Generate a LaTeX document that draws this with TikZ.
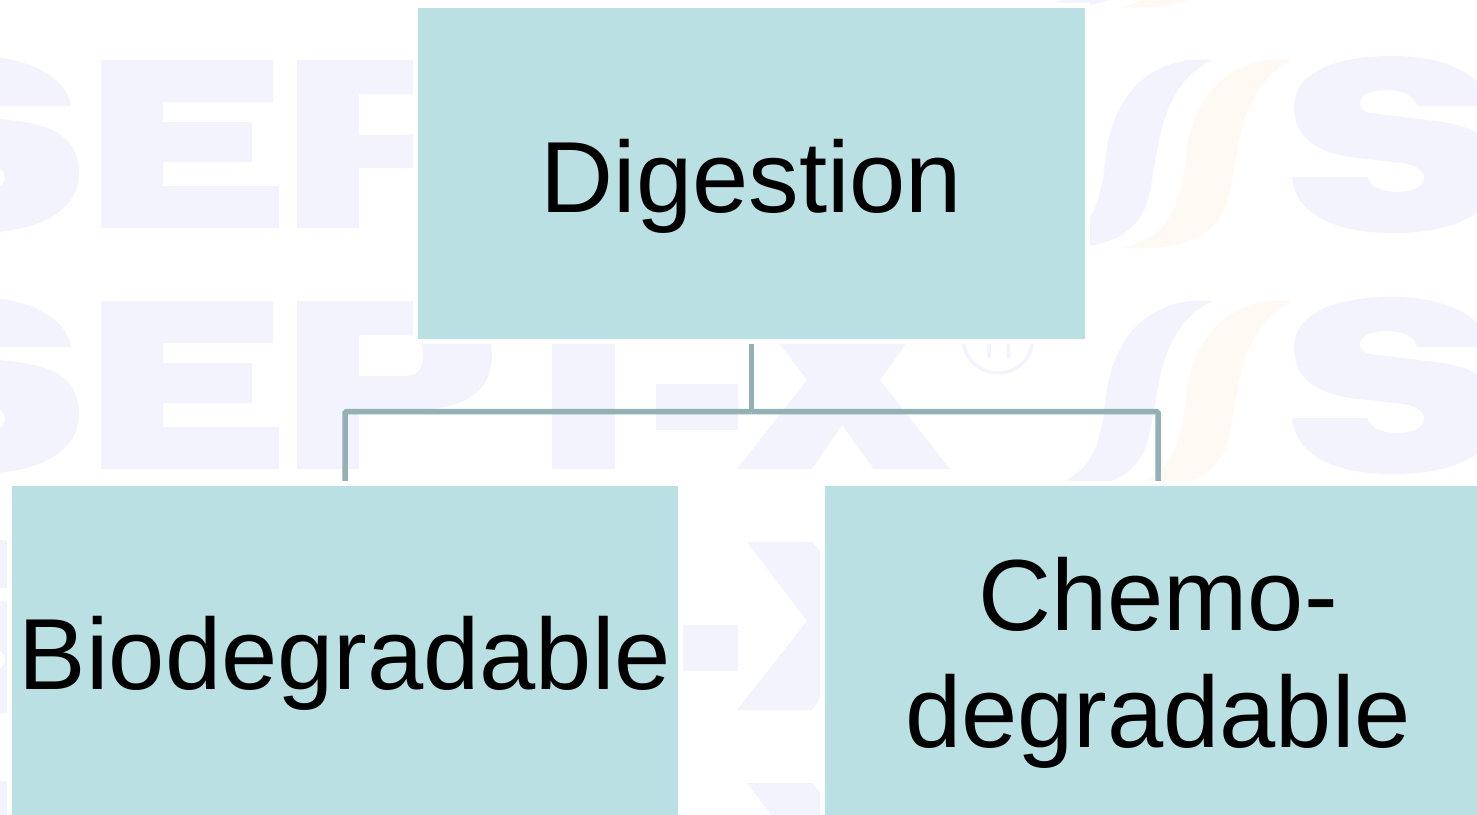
\documentclass[tikz,border=0pt]{standalone}
\usepackage{fontspec}
\setmainfont{Liberation Sans}
\usetikzlibrary{backgrounds}
\definecolor{boxfill}{HTML}{BBE0E3}
\definecolor{linkcol}{HTML}{93B1B5}
\definecolor{markblue}{HTML}{F3F3FE}
\definecolor{markorange}{HTML}{FFF8F3}
\tikzset{
  box/.style={rectangle,inner sep=0pt,outer sep=0pt,fill=boxfill,
    preaction={draw=white,line width=10pt},
    font=\fontsize{101.1}{117}\selectfont,align=center,text=black},
  link/.style={draw=linkcol,line width=5.5pt,rounded corners=1.5pt},
  wmark/.style={fill=markblue,draw=none,even odd rule},
  wswoosh/.style={fill=markblue,draw=none},
  wswooshb/.style={fill=markorange,draw=none},
  wring/.style={draw=markblue,line width=3.5pt,fill=none}
}
\newcommand{\wmS}{(1490,106) .. controls (1485,75) and (1445,56) .. (1393,56)
  .. controls (1335,56) and (1294,72) .. (1294,107)
  .. controls (1294,140) and (1320,152) .. (1350,157)
  -- (1403,163)
  .. controls (1416,165) and (1424,170) .. (1424,178)
  .. controls (1424,187) and (1412,192) .. (1397,192)
  .. controls (1382,192) and (1371,187) .. (1367,177)
  -- (1292,177)
  .. controls (1296,215) and (1335,233) .. (1393,233)
  .. controls (1460,233) and (1498,210) .. (1498,173)
  .. controls (1498,140) and (1475,127) .. (1443,122)
  -- (1370,113)
  .. controls (1362,112) and (1360,107) .. (1360,102)
  .. controls (1360,95) and (1372,90) .. (1387,90)
  .. controls (1403,90) and (1415,96) .. (1417,106)
  -- cycle}
\newcommand{\wmSw}{(1292,60) .. controls (1250,56) and (1200,75) .. (1187,147)
  .. controls (1181,205) and (1174,234) .. (1123,248)
  .. controls (1165,250) and (1212,245) .. (1226,205)
  .. controls (1240,165) and (1232,90) .. (1292,60) -- cycle}
\begin{document}
\begin{tikzpicture}[x=1pt,y=-1pt]
\useasboundingbox (0,0) rectangle (1477,814);
\begin{scope}
\clip (0,0) rectangle (1477,814);
\node[box,minimum width=667pt,minimum height=331pt] (top) at (751.5,173.5) {\rule{0pt}{98pt}Digestion};
\node[box,minimum width=666pt,minimum height=331pt] (left) at (345,651.5) {\rule{0pt}{97pt}Biodegradable};
\node[box,minimum width=666pt,minimum height=331pt] (right) at (1158,651.5) {\rule{0pt}{96pt}Chemo-\\degradable};
\end{scope}
\coordinate (hub) at (top.south |- 0,411.5);
\begin{pgfonlayer}{background}
\begin{scope}
\clip (0,0) rectangle (1477,814);
\fill[white] (0,0) rectangle (1477,814);
\foreach \dy in {-241,0,241,482,723}{
\begin{scope}[shift={(0,\dy)}]
  % S (left edge, cut by the page)
  \begin{scope}[shift={(-1419,0)}]
    \path[wmark] \wmS;
  \end{scope}
  % E
  \path[wmark] (101,60) -- (273,60) -- (273,102) -- (163,102) -- (163,122) -- (252,122) -- (252,162) -- (163,162) -- (163,186) -- (279,186) -- (279,228) -- (101,228) -- cycle;
  % P
  \path[wmark] (297,60) -- (420,60) .. controls (470,60) and (492,82) .. (492,114)
     .. controls (492,146) and (470,168) .. (420,168) -- (359,168) -- (359,228) -- (297,228) -- cycle
     (359,94) -- (405,94) .. controls (418,94) and (423,102) .. (423,114)
     .. controls (423,127) and (418,135) .. (405,135) -- (359,135) -- cycle;
  % T
  \path[wmark] (500,60) -- (668,60) -- (668,103) -- (615,103) -- (615,228) -- (552,228) -- (552,103) -- (500,103) -- cycle;
  % hyphen
  \path[wmark] (656,143) rectangle (738,189);
  % X
  \path[wmark] (747,60) -- (812,60) -- (843,95) -- (874,60) -- (937,60) -- (880,139) -- (950,228)
     -- (874,228) -- (842,184) -- (812,228) -- (737,228) -- (807,139) -- cycle;
  % registered mark
  \draw[wring] (998,97) circle[radius=35];
  \draw[wring] (989,90) -- (989,117) (1007,90) -- (1009,117);
  % swooshes
  \begin{scope}[shift={(-80,0)}]
    \path[wswoosh] \wmSw;
  \end{scope}
  \path[wswooshb] \wmSw;
  % S
  \path[wmark] \wmS;
\end{scope}}
\end{scope}
\draw[link] (top.south) -- (hub);
\draw[link] (hub) -| (left.north);
\draw[link] (hub) -| (right.north);
\end{pgfonlayer}
\end{tikzpicture}
\end{document}
